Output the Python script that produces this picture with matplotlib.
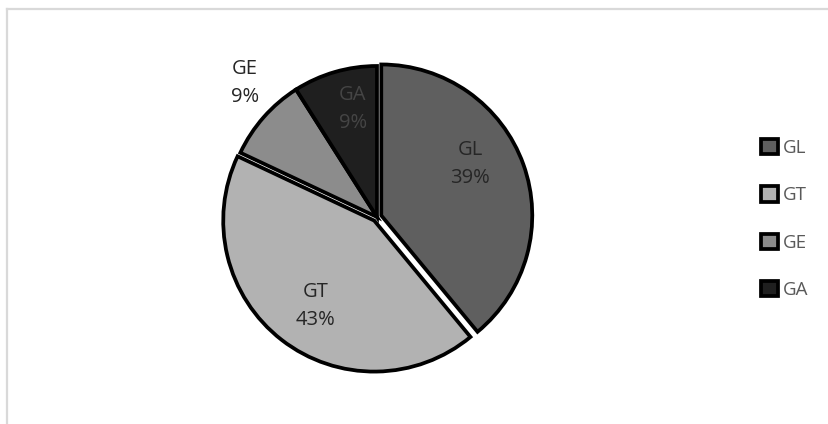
import matplotlib
matplotlib.use("Agg")
import matplotlib.pyplot as plt
from matplotlib.lines import Line2D

plt.rcParams['font.family'] = ['Open Sans', 'DejaVu Sans']

# Share of each group
categories = ["GL", "GT", "GE", "GA"]
shares = [39, 43, 9, 9]
colors = ["#5f5f5f", "#b2b2b2", "#8c8c8c", "#1f1f1f"]
label_colors = ["#262626", "#262626", "#262626", "#454545"]
explode = [0.03, 0.03, 0.0, 0.0]

# Where each "name / percent" label sits (pie data units, radius = 1)
label_xy = [(0.616, 0.351), (-0.404, -0.589), (-0.874, 0.887), (-0.159, 0.715)]

W, H = 829, 424
fig = plt.figure(figsize=(W / 100, H / 100), dpi=100)

# Light grey chart-area border (top and left edges)
frame_kw = dict(color="#d9d9d9", linewidth=1.6, transform=fig.transFigure)
fig.add_artist(Line2D([7 / W, 1.0], [1 - 9 / H, 1 - 9 / H], **frame_kw))
fig.add_artist(Line2D([7 / W, 7 / W], [1 - 9 / H, 0.0], **frame_kw))

# Pie axes: centre at (377, 217) px, radius 151 px
R = 151
span = 1.3
cx, cy = 377, H - 217
ax = fig.add_axes([(cx - span * R) / W, (cy - span * R) / H,
                   2 * span * R / W, 2 * span * R / H])

wedges, _ = ax.pie(
    shares, colors=colors, explode=explode, startangle=90, counterclock=False,
    radius=1.0, wedgeprops=dict(edgecolor="black", linewidth=2.7,
                                joinstyle="miter"),
)
ax.set_xlim(-span, span)
ax.set_ylim(-span, span)
ax.set_aspect("equal")
ax.axis("off")

for name, val, (lx, ly), tc in zip(categories, shares, label_xy, label_colors):
    ax.text(lx, ly, f"{name}\n{val}%", ha="center", va="center",
            fontsize=14.5, color=tc, linespacing=1.55)

fig.legend(
    wedges, categories, loc="center left",
    bbox_to_anchor=(761 / W, 1 - 219 / H), frameon=False,
    fontsize=13.5, labelcolor="#595959",
    handlelength=0.9, handleheight=0.9, handletextpad=0.25,
    labelspacing=1.55, borderpad=0, borderaxespad=0,
)

fig.savefig("out.png", dpi=100)
